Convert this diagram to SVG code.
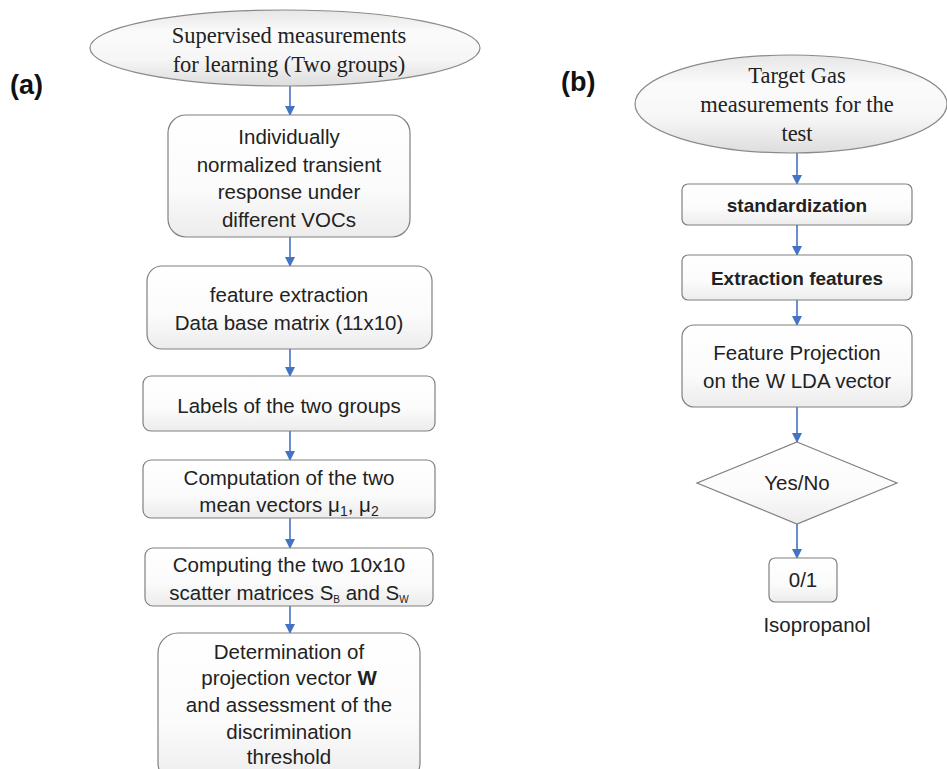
<svg xmlns="http://www.w3.org/2000/svg" width="947" height="769" viewBox="0 0 947 769">
<defs>
<linearGradient id="gBox" x1="0" y1="0" x2="0" y2="1">
<stop offset="0" stop-color="#ffffff"/>
<stop offset="0.6" stop-color="#fbfbfb"/>
<stop offset="1" stop-color="#ececec"/>
</linearGradient>
<linearGradient id="gEll" x1="0" y1="0" x2="0" y2="1">
<stop offset="0" stop-color="#e6e6e6"/>
<stop offset="0.3" stop-color="#fbfbfb"/>
<stop offset="0.65" stop-color="#f6f6f6"/>
<stop offset="1" stop-color="#dddddd"/>
</linearGradient>
<marker id="arr" viewBox="0 0 10 10" refX="9" refY="5" markerWidth="10" markerHeight="10" markerUnits="userSpaceOnUse" orient="auto">
<path d="M0,0 L10,5 L0,10 z" fill="#4472C4"/>
</marker>
</defs>
<style>
.box{fill:url(#gBox);stroke:#808080;stroke-width:1.2}
.ell{fill:url(#gEll);stroke:#8a8a8a;stroke-width:1.2}
.t{font-family:"Liberation Sans",Arial,sans-serif;font-size:20.5px;fill:#222;text-anchor:middle}
.tb{font-family:"Liberation Sans",Arial,sans-serif;font-size:19px;font-weight:bold;fill:#222;text-anchor:middle}
.s{font-family:"Liberation Serif","Times New Roman",serif;font-size:22.5px;fill:#222;text-anchor:middle}
.lab{font-family:"Liberation Sans",Arial,sans-serif;font-size:27px;font-weight:bold;fill:#111}
.c{stroke:#4472C4;stroke-width:1.6;fill:none;marker-end:url(#arr)}
</style>
<rect width="947" height="769" fill="#ffffff"/>

<text class="lab" x="10" y="94">(a)</text>
<text class="lab" x="561" y="91">(b)</text>

<g id="connectors">
<line class="c" x1="290" y1="86" x2="290" y2="115"/>
<line class="c" x1="290" y1="237" x2="290" y2="266"/>
<line class="c" x1="290" y1="349" x2="290" y2="376"/>
<line class="c" x1="290" y1="431" x2="290" y2="460"/>
<line class="c" x1="290" y1="518" x2="290" y2="548"/>
<line class="c" x1="290" y1="606" x2="290" y2="633"/>
<line class="c" x1="797" y1="153" x2="797" y2="184"/>
<line class="c" x1="797" y1="225" x2="797" y2="255"/>
<line class="c" x1="797" y1="300" x2="797" y2="325"/>
<line class="c" x1="797" y1="407" x2="797" y2="442"/>
<line class="c" x1="797" y1="524" x2="797" y2="558"/>
</g>

<g id="a-start">
<ellipse class="ell" cx="285" cy="48" rx="195" ry="38"/>
<text class="s" x="289" y="43">Supervised measurements</text>
<text class="s" x="289" y="72">for learning (Two groups)</text>
</g>

<g id="a-normalized">
<rect class="box" x="168" y="115" width="242" height="122" rx="18"/>
<text class="t" x="289" y="144">Individually</text>
<text class="t" x="289" y="172">normalized transient</text>
<text class="t" x="289" y="199">response under</text>
<text class="t" x="289" y="227">different VOCs</text>
</g>

<g id="a-features">
<rect class="box" x="147" y="266" width="285" height="83" rx="15"/>
<text class="t" x="289" y="302">feature extraction</text>
<text class="t" x="289" y="330">Data base matrix (11x10)</text>
</g>

<g id="a-labels">
<rect class="box" x="143" y="376" width="292" height="55" rx="8"/>
<text class="t" x="289" y="413">Labels of the two groups</text>
</g>

<g id="a-means">
<rect class="box" x="143" y="460" width="292" height="58" rx="8"/>
<text class="t" x="289" y="485">Computation of the two</text>
<text class="t" x="289" y="512">mean vectors μ<tspan font-size="14" dy="4">1</tspan><tspan dy="-4">, μ</tspan><tspan font-size="14" dy="4">2</tspan></text>
</g>

<g id="a-scatter">
<rect class="box" x="145" y="548" width="288" height="58" rx="8"/>
<text class="t" x="289" y="572">Computing the two 10x10</text>
<text class="t" x="289" y="600">scatter matrices S<tspan font-size="10" dy="3">B</tspan><tspan dy="-3"> and S</tspan><tspan font-size="10" dy="3">W</tspan></text>
</g>

<g id="a-projection">
<rect class="box" x="158" y="633" width="262" height="150" rx="20"/>
<text class="t" x="289" y="659">Determination of</text>
<text class="t" x="289" y="685">projection vector <tspan font-weight="bold">W</tspan></text>
<text class="t" x="289" y="712">and assessment of the</text>
<text class="t" x="289" y="739">discrimination</text>
<text class="t" x="289" y="764">threshold</text>
</g>

<g id="b-start">
<ellipse class="ell" cx="791" cy="104" rx="156" ry="49"/>
<text class="s" x="797" y="83">Target Gas</text>
<text class="s" x="797" y="112">measurements for the</text>
<text class="s" x="797" y="141">test</text>
</g>

<g id="b-standardization">
<rect class="box" x="682" y="184" width="230" height="41" rx="6"/>
<text class="tb" x="797" y="212">standardization</text>
</g>

<g id="b-extraction">
<rect class="box" x="682" y="255" width="230" height="45" rx="6"/>
<text class="tb" x="797" y="285">Extraction features</text>
</g>

<g id="b-projection">
<rect class="box" x="682" y="325" width="230" height="82" rx="12"/>
<text class="t" x="797" y="360">Feature Projection</text>
<text class="t" x="797" y="388">on the W LDA vector</text>
</g>

<g id="b-decision">
<polygon class="box" points="797,442 897,483 797,524 697,483"/>
<text class="t" x="797" y="490">Yes/No</text>
</g>

<g id="b-output">
<rect class="box" x="769" y="558" width="68" height="44" rx="6"/>
<text class="t" x="803" y="587">0/1</text>
</g>

<text class="t" x="817" y="632">Isopropanol</text>
</svg>
